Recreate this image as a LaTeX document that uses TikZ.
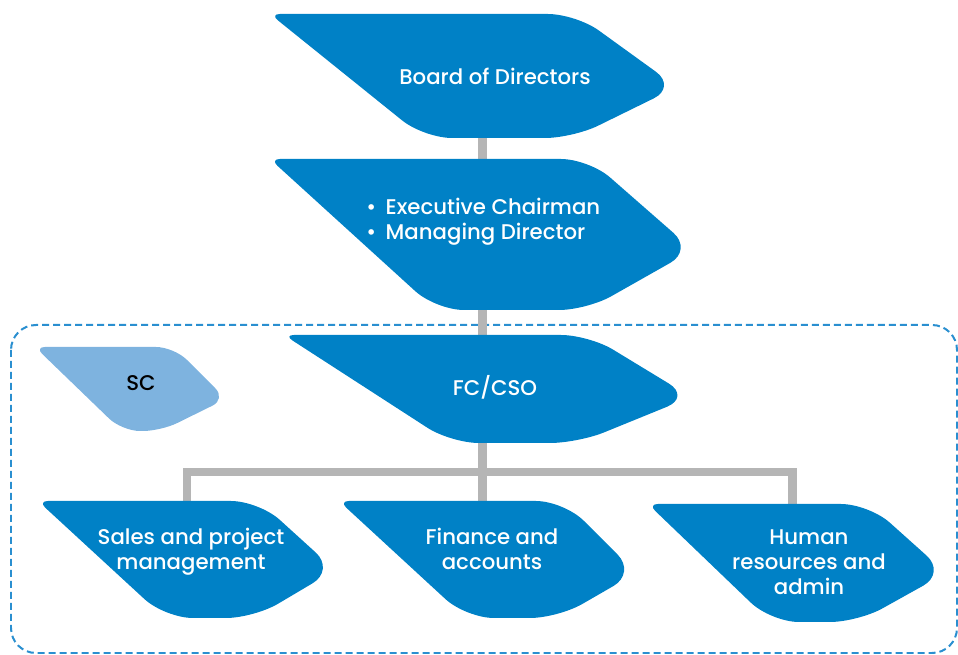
\documentclass[tikz,border=0pt]{standalone}
\usepackage{fontspec}
\setmainfont{Poppins Medium}
\usetikzlibrary{backgrounds,fit}
\definecolor{leafblue}{HTML}{0081C6}
\definecolor{leaflight}{HTML}{7EB3DF}
\definecolor{conngray}{HTML}{B5B5B5}
\definecolor{dashblue}{HTML}{2A8FD0}
\tikzset{
  leaf/.style={fill=leafblue},
  conn/.style={draw=conngray, line width=0.18cm},
  lbl/.style={text=white, font=\fontsize{12.1}{14.2}\selectfont, align=center, inner sep=0pt},
  boxnode/.style={inner sep=0pt, draw=none},
  groupbox/.style={draw=dashblue, line width=0.04cm, dash pattern=on 0.14cm off 0.08cm, rounded corners=0.5cm},
}
\def\rb{0.56cm}\def\rp{0.52cm}\def\rs{0.2cm}
% name, x0, x2, xp, x4, x5, ytop, yp, ybot
\newcommand\leaf[9]{%
  \fill[leaf] ({(#2+#3)/2},#7) [rounded corners=\rb] -- (#3,#7) [rounded corners=\rp] -- (#4,#8) [rounded corners=\rb] -- (#5,#9) [rounded corners=\rb] -- (#6,#9) [rounded corners=\rs] -- (#2,#7) [sharp corners] -- cycle;
  \path (#2,#7) coordinate (#1-nw) (#4,#9) coordinate (#1-se);
  \node[boxnode, fit=(#1-nw)(#1-se)] (#1) {};
}
\begin{document}
\begin{tikzpicture}[x=0.02cm,y=-0.02cm]
\useasboundingbox (0,0) rectangle (958,655);
\clip (0,0) rectangle (958,655);

\leaf{bod}{270}{576}{677}{573}{424}{14}{87}{138}
\leaf{exec}{270}{589}{693}{587}{436}{159}{250}{310}
\leaf{fc}{284}{589}{691}{578}{451}{335}{397}{443}
\begin{scope}[leaf/.style={fill=leaflight}]
\def\rb{0.36cm}\def\rp{0.3cm}
\leaf{sc}{35}{174}{226}{161}{122}{347}{399}{431}
\end{scope}
\leaf{sales}{38}{259}{335}{254}{165}{501}{570}{618}
\leaf{fin}{339}{564}{636}{558}{466}{501}{573}{618}
\leaf{hr}{648}{869}{946}{858}{771}{504}{573}{622}

\node[lbl] (bod-t) at (495,76) {Board of Directors};
\node[lbl, align=left, anchor=west] (exec-t) at (366,222) {\textbullet\hspace{0.45em}Executive Chairman\\\textbullet\hspace{0.45em}Managing Director};
\node[lbl] (fc-t) at (495,387) {FC/CSO};
\node[lbl, text=black] (sc-t) at (141,383) {SC};
\node[lbl] (sales-t) at (191,552) {Sales and project\\management};
\node[lbl] (fin-t) at (492,549) {Finance and\\accounts};
\node[lbl] (hr-t) at (809,562) {Human\\resources and\\admin};

\coordinate (spine) at (482,0);
\coordinate (busL) at (187,472);
\coordinate (busR) at (792,472);
\begin{pgfonlayer}{background}
\draw[groupbox] (11,325) rectangle (957,653);
\draw[conn] (bod.south -| spine) -- (exec.north -| spine);
\draw[conn] (exec.south -| spine) -- (fc.north -| spine);
\draw[conn] (fc.south -| spine) -- (fin.north -| spine);
\draw[conn] (sales.north -| busL) |- (busR) -- (hr.north -| busR);
\end{pgfonlayer}
\end{tikzpicture}
\end{document}
